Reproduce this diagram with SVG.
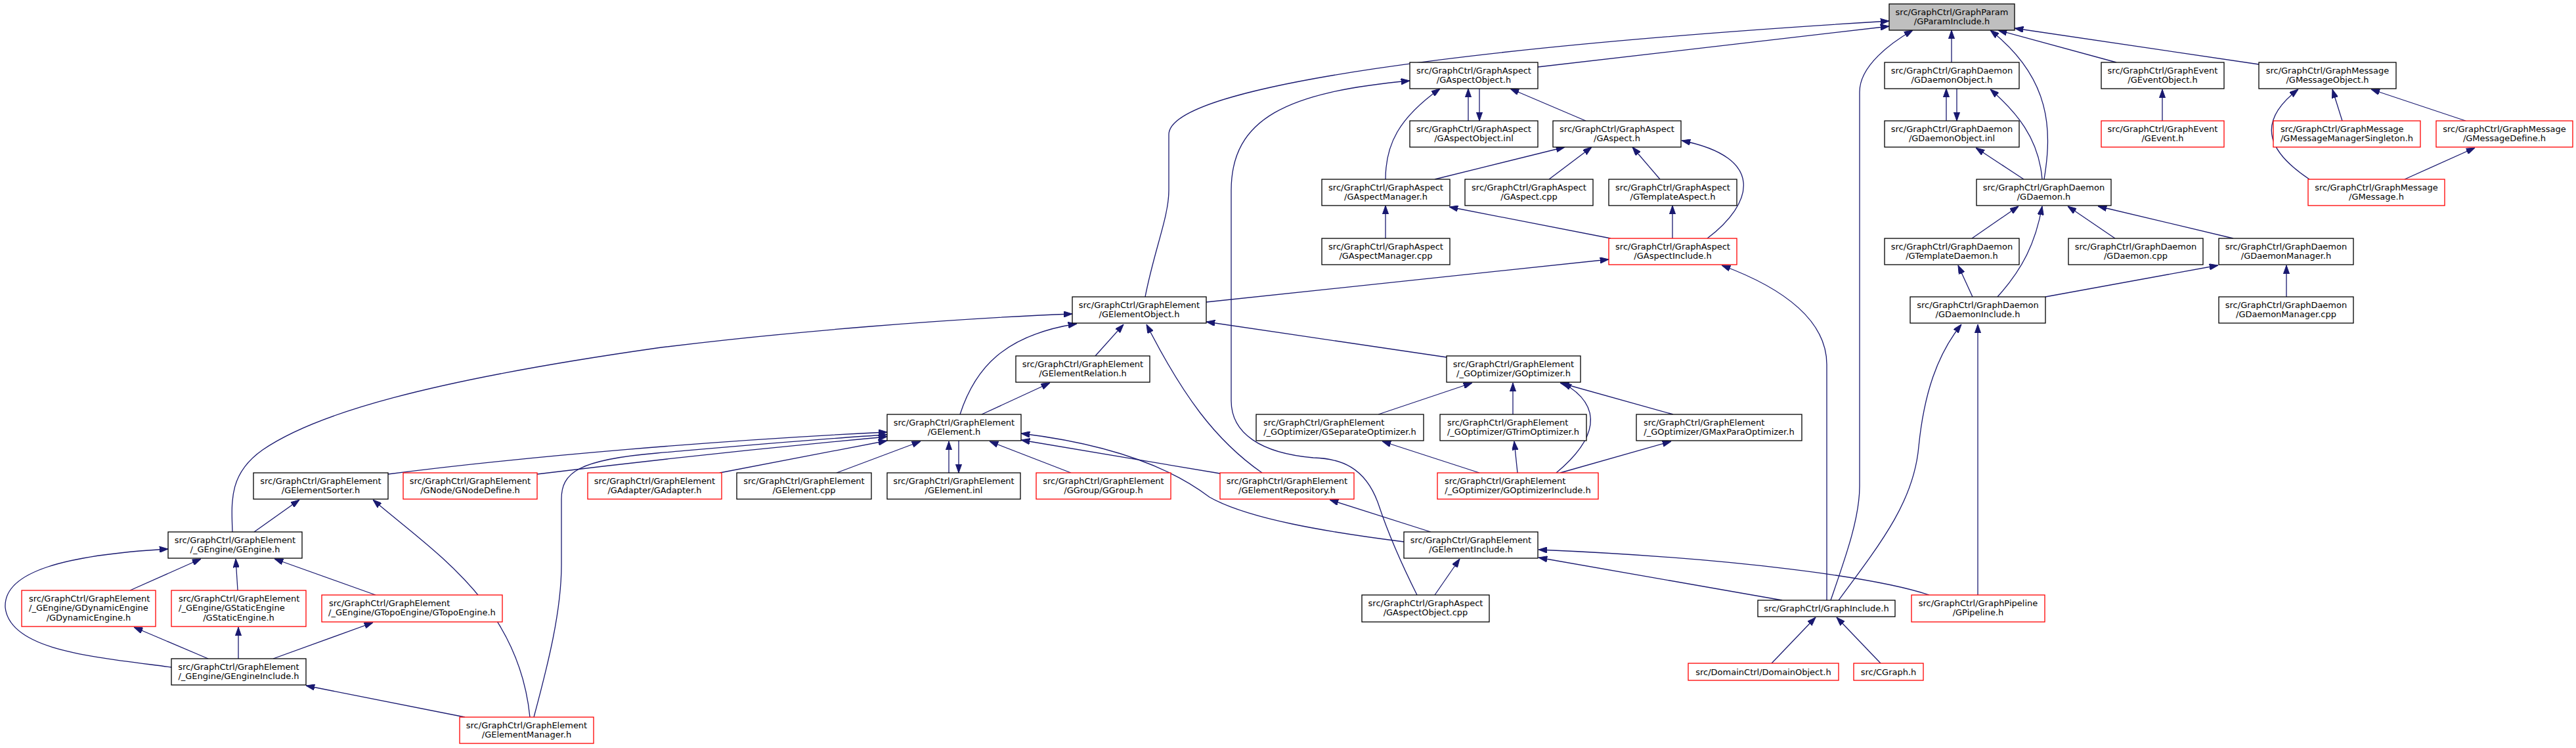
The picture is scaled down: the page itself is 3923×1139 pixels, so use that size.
<svg xmlns="http://www.w3.org/2000/svg" width="3923" height="1139" viewBox="0 0 3923 1139">
<style>
rect{fill:#fff;stroke:#000;stroke-width:1.3}
.r rect{stroke:#ff0000}
.root rect{fill:#bfbfbf}
text{font-family:"DejaVu Sans",sans-serif;font-size:13px;fill:#000;text-anchor:middle}
text.l{text-anchor:start}
#edges path{fill:none;stroke:#191970;stroke-width:1.3;marker-end:url(#a)}
</style>
<defs>
<marker id="a" viewBox="0 0 13.3 9.4" refX="13.3" refY="4.7" markerWidth="13.3" markerHeight="9.4" markerUnits="userSpaceOnUse" orient="auto">
<path d="M0,0 L13.3,4.7 L0,9.4 z" fill="#191970" stroke="#191970" stroke-width="1"/>
</marker>
</defs>
<rect x="0" y="0" width="3923" height="1139" style="fill:#fff;stroke:none"/>
<g id="edges">
<path d="M1744,452 C1758,380 1780,330 1780,290 L1780,205 C1780,130 2250,70 2877,32"/>
<path d="M2342,102 L2877,40"/>
<path d="M2972,95 L2972,46"/>
<path d="M2788,914 C2810,850 2832,790 2832,740 L2832,140 C2832,100 2880,65 2913,46"/>
<path d="M3113,273 C3125,200 3125,120 3031,46"/>
<path d="M3223,95 L3043,46"/>
<path d="M3440,98 L3068,43"/>
<path d="M2236,184 L2236,135"/>
<path d="M2253,135 L2253,184"/>
<path d="M2415,184 L2300,135"/>
<path d="M2110,273 C2110,220 2130,180 2193,135"/>
<path d="M2185,273 L2383,224"/>
<path d="M2359,273 L2424,224"/>
<path d="M2528,273 L2486,224"/>
<path d="M2600,363 C2670,310 2690,240 2561,214"/>
<path d="M2110,363 L2110,313"/>
<path d="M2453,363 L2207,315"/>
<path d="M2547,363 L2547,313"/>
<path d="M1837,460 L2450,395"/>
<path d="M2203,544 L1837,490"/>
<path d="M2964,184 L2964,135"/>
<path d="M2980,135 L2980,184"/>
<path d="M3110,273 C3105,210 3070,170 3031,136"/>
<path d="M3082,273 L3009,225"/>
<path d="M3003,363 L3074,314"/>
<path d="M3042,452 C3080,410 3100,370 3110,314"/>
<path d="M3221,363 L3149,314"/>
<path d="M3401,363 L3195,314"/>
<path d="M3004,452 L2982,404"/>
<path d="M3115,452 L3378,404"/>
<path d="M3482,452 L3482,404"/>
<path d="M2800,914 C2870,820 2915,760 2922,680 C2930,600 2950,540 2987,494"/>
<path d="M3012,906 L3012,494"/>
<path d="M3293,184 L3293,136"/>
<path d="M3517,273 C3460,235 3430,190 3500,136"/>
<path d="M3567,184 L3552,136"/>
<path d="M3755,184 L3611,136"/>
<path d="M3662,273 L3769,225"/>
<path d="M1668,542 L1711,494"/>
<path d="M1462,631 C1485,560 1530,510 1640,493"/>
<path d="M1922,720 C1850,670 1800,600 1746,494"/>
<path d="M1495,631 L1599,583"/>
<path d="M354,810 C352,760 350,720 400,685 C480,630 650,580 1000,530 C1200,505 1450,485 1633,478"/>
<path d="M591,722 C800,695 1100,670 1351,658"/>
<path d="M818,722 C900,712 1100,688 1351,665"/>
<path d="M813,1092 C835,1010 855,930 855,860 L855,760 C855,720 880,700 1000,690 C1150,677 1250,668 1351,662"/>
<path d="M1096,720 L1351,671"/>
<path d="M1274,720 L1402,672"/>
<path d="M1445,720 L1445,672"/>
<path d="M1460,671 L1460,720"/>
<path d="M1631,720 L1507,672"/>
<path d="M1858,721 L1555,670"/>
<path d="M2138,825 C2020,810 1900,790 1842,757 C1800,725 1720,680 1555,660"/>
<path d="M387,810 L456,761"/>
<path d="M807,1092 C790,920 660,840 568,761"/>
<path d="M198,899 L306,851"/>
<path d="M362,899 L359,851"/>
<path d="M572,906 L418,851"/>
<path d="M261,1016 C140,1000 15,990 8,925 C5,870 100,845 256,836"/>
<path d="M317,1003 L204,955"/>
<path d="M363,1003 L363,955"/>
<path d="M416,1003 L568,948"/>
<path d="M708,1092 L466,1044"/>
<path d="M2099,631 L2242,583"/>
<path d="M2304,631 L2304,583"/>
<path d="M2548,631 L2376,583"/>
<path d="M2370,720 C2430,670 2445,620 2380,583"/>
<path d="M2253,720 L2105,672"/>
<path d="M2311,720 L2306,672"/>
<path d="M2376,720 L2545,672"/>
<path d="M2179,810 L2025,761"/>
<path d="M2185,906 L2223,851"/>
<path d="M2714,914 L2343,849"/>
<path d="M2938,906 C2860,880 2650,850 2343,837"/>
<path d="M2698,1010 L2765,940"/>
<path d="M2864,1010 L2797,940"/>
<path d="M2782,914 L2782,555 C2782,490 2720,440 2622,404"/>
<path d="M2158,906 C2130,850 2110,800 2100,770 C2080,710 2040,698 2000,697 C1920,690 1875,660 1875,610 L1875,290 C1875,180 1960,140 2147,123"/>
</g>
<g id="root" class="root"><rect x="2877" y="6" width="191" height="40"/><text x="2972.5" y="22.8">src/GraphCtrl/GraphParam</text><text x="2972.5" y="37.3">/GParamInclude.h</text></g>
<g id="aobj"><rect x="2147" y="95" width="195" height="40"/><text x="2244.5" y="111.8">src/GraphCtrl/GraphAspect</text><text x="2244.5" y="126.3">/GAspectObject.h</text></g>
<g id="aobjinl"><rect x="2147" y="184" width="195" height="40"/><text x="2244.5" y="200.8">src/GraphCtrl/GraphAspect</text><text x="2244.5" y="215.3">/GAspectObject.inl</text></g>
<g id="aspect"><rect x="2365" y="184" width="195" height="40"/><text x="2462.5" y="200.8">src/GraphCtrl/GraphAspect</text><text x="2462.5" y="215.3">/GAspect.h</text></g>
<g id="amgr"><rect x="2013" y="273" width="195" height="40"/><text x="2110.5" y="289.8">src/GraphCtrl/GraphAspect</text><text x="2110.5" y="304.3">/GAspectManager.h</text></g>
<g id="acpp"><rect x="2231" y="273" width="195" height="40"/><text x="2328.5" y="289.8">src/GraphCtrl/GraphAspect</text><text x="2328.5" y="304.3">/GAspect.cpp</text></g>
<g id="tasp"><rect x="2450" y="273" width="195" height="40"/><text x="2547.5" y="289.8">src/GraphCtrl/GraphAspect</text><text x="2547.5" y="304.3">/GTemplateAspect.h</text></g>
<g id="amgrcpp"><rect x="2013" y="363" width="195" height="40"/><text x="2110.5" y="379.8">src/GraphCtrl/GraphAspect</text><text x="2110.5" y="394.3">/GAspectManager.cpp</text></g>
<g id="ainc" class="r"><rect x="2450" y="363" width="195" height="40"/><text x="2547.5" y="379.8">src/GraphCtrl/GraphAspect</text><text x="2547.5" y="394.3">/GAspectInclude.h</text></g>
<g id="dobj"><rect x="2870" y="95" width="205" height="40"/><text x="2972.5" y="111.8">src/GraphCtrl/GraphDaemon</text><text x="2972.5" y="126.3">/GDaemonObject.h</text></g>
<g id="dobjinl"><rect x="2870" y="184" width="205" height="40"/><text x="2972.5" y="200.8">src/GraphCtrl/GraphDaemon</text><text x="2972.5" y="215.3">/GDaemonObject.inl</text></g>
<g id="daemon"><rect x="3010" y="273" width="205" height="40"/><text x="3112.5" y="289.8">src/GraphCtrl/GraphDaemon</text><text x="3112.5" y="304.3">/GDaemon.h</text></g>
<g id="tdaemon"><rect x="2870" y="363" width="205" height="40"/><text x="2972.5" y="379.8">src/GraphCtrl/GraphDaemon</text><text x="2972.5" y="394.3">/GTemplateDaemon.h</text></g>
<g id="dcpp"><rect x="3150" y="363" width="205" height="40"/><text x="3252.5" y="379.8">src/GraphCtrl/GraphDaemon</text><text x="3252.5" y="394.3">/GDaemon.cpp</text></g>
<g id="dmgr"><rect x="3379" y="363" width="205" height="40"/><text x="3481.5" y="379.8">src/GraphCtrl/GraphDaemon</text><text x="3481.5" y="394.3">/GDaemonManager.h</text></g>
<g id="dinc"><rect x="2909" y="452" width="206" height="40"/><text x="3012" y="468.8">src/GraphCtrl/GraphDaemon</text><text x="3012" y="483.3">/GDaemonInclude.h</text></g>
<g id="dmgrcpp"><rect x="3379" y="452" width="205" height="40"/><text x="3481.5" y="468.8">src/GraphCtrl/GraphDaemon</text><text x="3481.5" y="483.3">/GDaemonManager.cpp</text></g>
<g id="evobj"><rect x="3200" y="95" width="187" height="40"/><text x="3293.5" y="111.8">src/GraphCtrl/GraphEvent</text><text x="3293.5" y="126.3">/GEventObject.h</text></g>
<g id="event" class="r"><rect x="3200" y="184" width="187" height="40"/><text x="3293.5" y="200.8">src/GraphCtrl/GraphEvent</text><text x="3293.5" y="215.3">/GEvent.h</text></g>
<g id="mobj"><rect x="3440" y="95" width="209" height="40"/><text x="3544.5" y="111.8">src/GraphCtrl/GraphMessage</text><text x="3544.5" y="126.3">/GMessageObject.h</text></g>
<g id="mms" class="r"><rect x="3462" y="184" width="224" height="40"/><text class="l" x="3473" y="200.8">src/GraphCtrl/GraphMessage</text><text x="3574" y="215.3">/GMessageManagerSingleton.h</text></g>
<g id="mdef" class="r"><rect x="3710" y="184" width="208" height="40"/><text x="3814" y="200.8">src/GraphCtrl/GraphMessage</text><text x="3814" y="215.3">/GMessageDefine.h</text></g>
<g id="msg" class="r"><rect x="3515" y="273" width="208" height="40"/><text x="3619" y="289.8">src/GraphCtrl/GraphMessage</text><text x="3619" y="304.3">/GMessage.h</text></g>
<g id="eobj"><rect x="1633" y="452" width="204" height="40"/><text x="1735" y="468.8">src/GraphCtrl/GraphElement</text><text x="1735" y="483.3">/GElementObject.h</text></g>
<g id="erel"><rect x="1547" y="542" width="204" height="40"/><text x="1649" y="558.8">src/GraphCtrl/GraphElement</text><text x="1649" y="573.3">/GElementRelation.h</text></g>
<g id="opt"><rect x="2203" y="542" width="204" height="40"/><text x="2305" y="558.8">src/GraphCtrl/GraphElement</text><text x="2305" y="573.3">/_GOptimizer/GOptimizer.h</text></g>
<g id="elem"><rect x="1351" y="631" width="204" height="40"/><text x="1453" y="647.8">src/GraphCtrl/GraphElement</text><text x="1453" y="662.3">/GElement.h</text></g>
<g id="sepopt"><rect x="1913" y="631" width="255" height="40"/><text class="l" x="1924" y="647.8">src/GraphCtrl/GraphElement</text><text x="2040.5" y="662.3">/_GOptimizer/GSeparateOptimizer.h</text></g>
<g id="trimopt"><rect x="2193" y="631" width="223" height="40"/><text class="l" x="2204" y="647.8">src/GraphCtrl/GraphElement</text><text x="2304.5" y="662.3">/_GOptimizer/GTrimOptimizer.h</text></g>
<g id="maxopt"><rect x="2492" y="631" width="252" height="40"/><text class="l" x="2503" y="647.8">src/GraphCtrl/GraphElement</text><text x="2618" y="662.3">/_GOptimizer/GMaxParaOptimizer.h</text></g>
<g id="sorter"><rect x="386" y="720" width="205" height="40"/><text x="488.5" y="736.8">src/GraphCtrl/GraphElement</text><text x="488.5" y="751.3">/GElementSorter.h</text></g>
<g id="nodedef" class="r"><rect x="614" y="720" width="204" height="40"/><text x="716" y="736.8">src/GraphCtrl/GraphElement</text><text x="716" y="751.3">/GNode/GNodeDefine.h</text></g>
<g id="adapter" class="r"><rect x="895" y="720" width="204" height="40"/><text x="997" y="736.8">src/GraphCtrl/GraphElement</text><text x="997" y="751.3">/GAdapter/GAdapter.h</text></g>
<g id="ecpp"><rect x="1122" y="720" width="205" height="40"/><text x="1224.5" y="736.8">src/GraphCtrl/GraphElement</text><text x="1224.5" y="751.3">/GElement.cpp</text></g>
<g id="einl"><rect x="1351" y="720" width="203" height="40"/><text x="1452.5" y="736.8">src/GraphCtrl/GraphElement</text><text x="1452.5" y="751.3">/GElement.inl</text></g>
<g id="group" class="r"><rect x="1578" y="720" width="205" height="40"/><text x="1680.5" y="736.8">src/GraphCtrl/GraphElement</text><text x="1680.5" y="751.3">/GGroup/GGroup.h</text></g>
<g id="repo" class="r"><rect x="1858" y="720" width="204" height="40"/><text x="1960" y="736.8">src/GraphCtrl/GraphElement</text><text x="1960" y="751.3">/GElementRepository.h</text></g>
<g id="optinc" class="r"><rect x="2189" y="720" width="245" height="40"/><text class="l" x="2200" y="736.8">src/GraphCtrl/GraphElement</text><text x="2311.5" y="751.3">/_GOptimizer/GOptimizerInclude.h</text></g>
<g id="engine"><rect x="256" y="810" width="204" height="40"/><text x="358" y="826.8">src/GraphCtrl/GraphElement</text><text x="358" y="841.3">/_GEngine/GEngine.h</text></g>
<g id="einc"><rect x="2138" y="810" width="204" height="40"/><text x="2240" y="826.8">src/GraphCtrl/GraphElement</text><text x="2240" y="841.3">/GElementInclude.h</text></g>
<g id="dyn" class="r"><rect x="33" y="899" width="204" height="55"/><text class="l" x="44" y="915.8">src/GraphCtrl/GraphElement</text><text class="l" x="44" y="930.3">/_GEngine/GDynamicEngine</text><text x="135" y="944.8">/GDynamicEngine.h</text></g>
<g id="static" class="r"><rect x="261" y="899" width="205" height="55"/><text class="l" x="272" y="915.8">src/GraphCtrl/GraphElement</text><text class="l" x="272" y="930.3">/_GEngine/GStaticEngine</text><text x="363.5" y="944.8">/GStaticEngine.h</text></g>
<g id="topo" class="r"><rect x="490" y="906" width="275" height="41"/><text class="l" x="501" y="922.8">src/GraphCtrl/GraphElement</text><text x="627.5" y="937.3">/_GEngine/GTopoEngine/GTopoEngine.h</text></g>
<g id="aobjcpp"><rect x="2074" y="906" width="194" height="41"/><text x="2171" y="922.8">src/GraphCtrl/GraphAspect</text><text x="2171" y="937.3">/GAspectObject.cpp</text></g>
<g id="ginc"><rect x="2677" y="914" width="209" height="25"/><text x="2781.5" y="930.5">src/GraphCtrl/GraphInclude.h</text></g>
<g id="pipe" class="r"><rect x="2911" y="906" width="203" height="41"/><text x="3012.5" y="922.8">src/GraphCtrl/GraphPipeline</text><text x="3012.5" y="937.3">/GPipeline.h</text></g>
<g id="enginc"><rect x="261" y="1003" width="205" height="40"/><text x="363.5" y="1019.8">src/GraphCtrl/GraphElement</text><text x="363.5" y="1034.3">/_GEngine/GEngineInclude.h</text></g>
<g id="emgr" class="r"><rect x="700" y="1092" width="204" height="40"/><text x="802" y="1108.8">src/GraphCtrl/GraphElement</text><text x="802" y="1123.3">/GElementManager.h</text></g>
<g id="domain" class="r"><rect x="2571" y="1010" width="229" height="26"/><text x="2685.5" y="1027.5">src/DomainCtrl/DomainObject.h</text></g>
<g id="cgraph" class="r"><rect x="2823" y="1010" width="106" height="26"/><text x="2876" y="1027.5">src/CGraph.h</text></g>
</svg>
